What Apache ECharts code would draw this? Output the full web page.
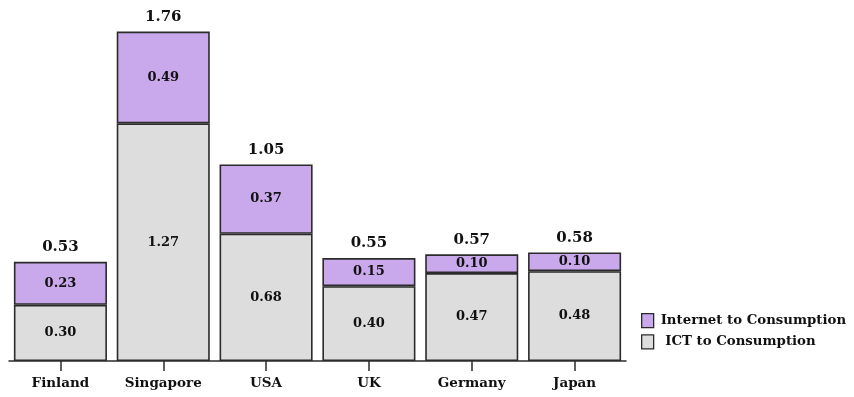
<!DOCTYPE html>
<html>
<head>
<meta charset="utf-8">
<script src="https://cdn.jsdelivr.net/npm/echarts@6/dist/echarts.min.js"></script>
<style>
  html, body { margin: 0; padding: 0; background: #ffffff; }
  #chart { width: 854px; height: 397px; }
</style>
</head>
<body>
<div id="chart"></div>
<script>
// Contribution to consumption by country
const countries = ['Finland', 'Singapore', 'USA', 'UK', 'Germany', 'Japan'];
const ictToConsumption = [0.30, 1.27, 0.68, 0.40, 0.47, 0.48];
const internetToConsumption = [0.23, 0.49, 0.37, 0.15, 0.10, 0.10];
const totals = [0.53, 1.76, 1.05, 0.55, 0.57, 0.58];

const FONT = '"DejaVu Serif", "Liberation Serif", serif';
const EDGE = '#2b2b2b';

const chart = echarts.init(document.getElementById('chart'));
chart.setOption({
  animation: false,
  backgroundColor: '#ffffff',
  grid: { left: 9, right: 228, top: 26, bottom: 36 },
  legend: {
    orient: 'vertical',
    left: 636,
    top: 308,
    icon: 'rect',
    itemWidth: 12,
    itemHeight: 14,
    itemGap: 6,
    data: ['Internet to Consumption', 'ICT to Consumption'],
    formatter: name => (name === 'ICT to Consumption' ? ' ' + name : name),
    textStyle: { fontFamily: FONT, fontWeight: 'bold', fontSize: 13.3, color: '#111', padding: [0, 0, 0, 2] },
    itemStyle: { borderColor: EDGE, borderWidth: 1.3 }
  },
  xAxis: {
    type: 'category',
    data: countries,
    axisLine: { lineStyle: { color: EDGE, width: 1.5 } },
    axisTick: { show: true, alignWithLabel: true, length: 10, lineStyle: { color: EDGE, width: 1.5 } },
    axisLabel: { margin: 15, fontFamily: FONT, fontWeight: 'bold', fontSize: 13.5, color: '#111' }
  },
  yAxis: {
    type: 'value',
    min: 0,
    max: 1.79,
    show: false,
    splitLine: { show: false }
  },
  series: [
    {
      name: 'ICT to Consumption',
      type: 'bar',
      stack: 'total',
      barCategoryGap: '9.5%',
      data: ictToConsumption,
      itemStyle: { color: '#dddddd', borderColor: EDGE, borderWidth: 1.6 },
      label: {
        show: true,
        position: 'inside',
        formatter: p => p.value.toFixed(2),
        fontFamily: FONT, fontWeight: 'bold', fontSize: 13, color: '#111'
      }
    },
    {
      name: 'Internet to Consumption',
      type: 'bar',
      stack: 'total',
      data: internetToConsumption,
      itemStyle: { color: '#c9a9eb', borderColor: EDGE, borderWidth: 1.6 },
      label: {
        show: true,
        position: 'inside',
        formatter: p => p.value.toFixed(2),
        fontFamily: FONT, fontWeight: 'bold', fontSize: 13, color: '#111'
      }
    },
    {
      // invisible helper carrying the total above each stack
      name: 'total',
      type: 'bar',
      stack: 'total',
      data: totals.map(() => 0),
      itemStyle: { color: 'transparent' },
      label: {
        show: true,
        position: 'top',
        distance: 7,
        formatter: p => totals[p.dataIndex].toFixed(2),
        fontFamily: FONT, fontWeight: 'bold', fontSize: 15, color: '#111'
      }
    }
  ]
});
</script>
</body>
</html>
